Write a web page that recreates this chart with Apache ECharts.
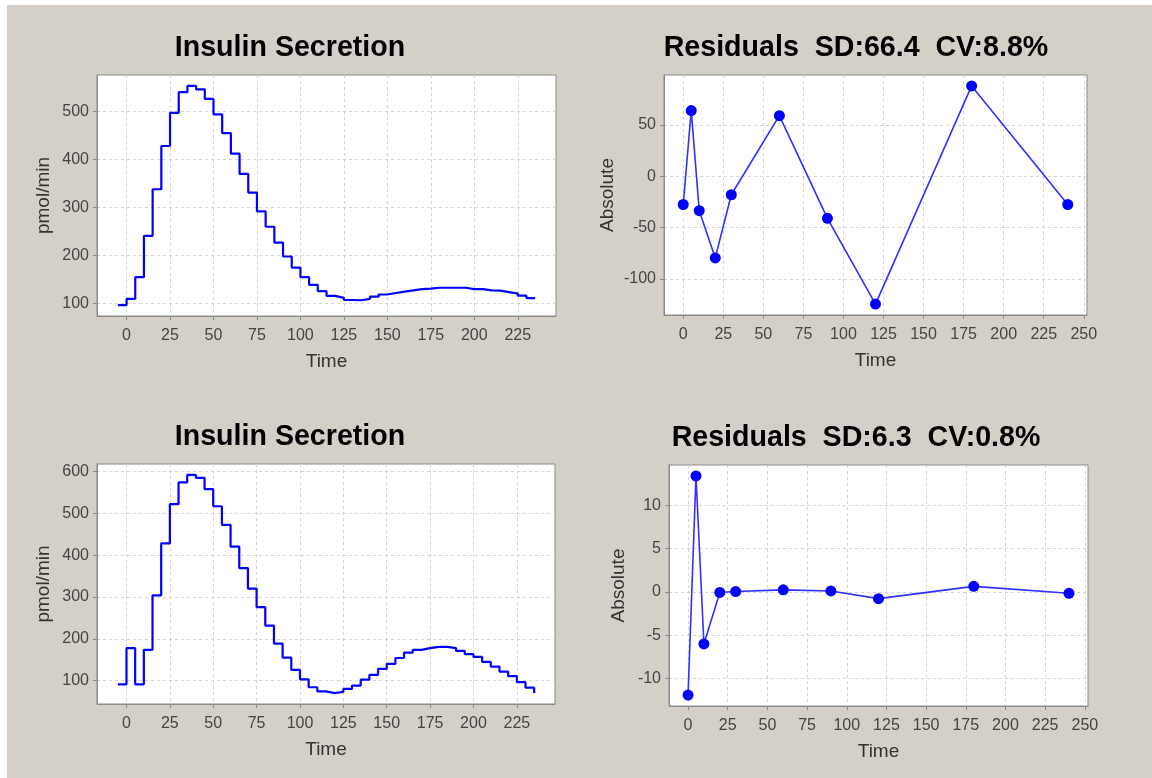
<!DOCTYPE html>
<html>
<head>
<meta charset="utf-8">
<script src="https://cdn.jsdelivr.net/npm/echarts@6/dist/echarts.min.js"></script>
<style>
html,body{margin:0;padding:0;background:#ffffff;width:1152px;height:778px;overflow:hidden;}
#chart{position:absolute;left:7px;top:5px;width:1145px;height:773px;}
</style>
</head>
<body>
<div id="chart"></div>
<script>
// ---------- data ----------
const stepTimes = [-5,0,5,10,15,20,25,30,35,40,45,50,55,60,65,70,75,80,85,90,95,100,105,110,115,120,125,130,135,140,145,150,155,160,165,170,175,180,185,190,195,200,205,210,215,220,225,230,235];
const secretionTop = [97,110,155,241,338,428,497,540,553,546,526,494,455,412,370,331,292,260,227,198,175,155,139,126,116,112,107.5,107,110,114.5,119,122,125,127.5,130,131,133,133,133,133,130,130,127.5,127,124,121,116.5,111.5,111.5];
const secretionBottom = [91,177.5,91,173.5,304,428,522,574,592,585,558,517,472.5,420.5,369,320,275.5,231.5,188.5,155,125.5,103,84,74,70,73,80,88,102,113.5,128,140,154,167,173.5,177.5,180.5,180.5,177.5,171,163,156.5,144.5,133.5,121.5,110.5,96,83,70];
const residTimes = [0,5,10,20,30,60,90,120,180,240];
const residTop = [-27.5,64,-33.5,-79.5,-18,59,-41,-124.5,88,-27.5];
const residBottom = [-11.9,13.4,-6.0,-0.05,0.05,0.25,0.12,-0.77,0.65,-0.15];

const stepXTicks = [0,25,50,75,100,125,150,175,200,225];
const residXTicks = [0,25,50,75,100,125,150,175,200,225,250];
const secTopYTicks = [100,200,300,400,500];
const secBotYTicks = [100,200,300,400,500,600];
const resTopYTicks = [-100,-50,0,50];
const resBotYTicks = [-10,-5,0,5,10];

const titles = ['Insulin Secretion', 'Residuals  SD:66.4  CV:8.8%', 'Insulin Secretion', 'Residuals  SD:6.3  CV:0.8%'];
// ---------- helpers ----------
function pad(arr){ const mn=Math.min(...arr), mx=Math.max(...arr), r=mx-mn; return [mn-0.05*r, mx+0.05*r]; }
const FONT = 'Liberation Sans, Arial, sans-serif';
function axis(gi, ticks, range, name, gap, isX){
  return {
    type:'value', gridIndex:gi, min:range[0], max:range[1],
    name:name, nameLocation:'middle', nameGap:gap,
    nameTextStyle:{color:'#333', fontSize:19, fontFamily:FONT},
    axisLine:{show:true, onZero:false, lineStyle:{color:'#8a8a8a', width:1}},
    axisTick:{show:true, length:4, customValues:ticks, lineStyle:{color:'#8a8a8a'}},
    axisLabel:{show:true, customValues:ticks, color:'#444', fontSize:16, fontFamily:FONT, margin: isX ? 12 : 8},
    splitLine:{show:true, lineStyle:{color:'#d4d4d4', type:[3,3], width:1}}
  };
}
function pairs(xs, ys){ return xs.map((x,i)=>[x, ys[i]]); }
const TS = {fontSize:28.6, fontWeight:'bold', color:'#000', fontFamily:FONT};

const chart = echarts.init(document.getElementById('chart'), null, {renderer:'canvas'});
chart.setOption({
  backgroundColor:'#d4d0c8',
  animation:false,
  title:[
    {text:titles[0], left:278, top:24, textAlign:'center', textStyle:TS},
    {text:titles[1], left:844, top:24, textAlign:'center', textStyle:TS},
    {text:titles[2], left:278, top:413, textAlign:'center', textStyle:TS},
    {text:titles[3], left:844, top:414, textAlign:'center', textStyle:TS}
  ],
  grid:[
    {left:90, top:70, width:459, height:241, show:true, backgroundColor:'#fff', borderColor:'#8a8a8a'},
    {left:657, top:70, width:423, height:240, show:true, backgroundColor:'#fff', borderColor:'#8a8a8a'},
    {left:90, top:459, width:458, height:240, show:true, backgroundColor:'#fff', borderColor:'#8a8a8a'},
    {left:662, top:460, width:419, height:241, show:true, backgroundColor:'#fff', borderColor:'#8a8a8a'}
  ],
  xAxis:[
    axis(0, stepXTicks, pad(stepTimes), 'Time', 36, true),
    axis(1, residXTicks, pad(residTimes), 'Time', 36, true),
    axis(2, stepXTicks, pad(stepTimes), 'Time', 36, true),
    axis(3, residXTicks, pad(residTimes), 'Time', 36, true)
  ],
  yAxis:[
    axis(0, secTopYTicks, pad(secretionTop), 'pmol/min', 44, false),
    axis(1, resTopYTicks, pad(residTop), 'Absolute', 47, false),
    axis(2, secBotYTicks, pad(secretionBottom), 'pmol/min', 44, false),
    axis(3, resBotYTicks, pad(residBottom), 'Absolute', 41, false)
  ],
  series:[
    {type:'line', xAxisIndex:0, yAxisIndex:0, step:'end', showSymbol:false, data:pairs(stepTimes, secretionTop), lineStyle:{color:'#0000ff', width:2.2}},
    {type:'line', xAxisIndex:1, yAxisIndex:1, symbol:'circle', symbolSize:11, data:pairs(residTimes, residTop), itemStyle:{color:'#0000ff'}, lineStyle:{color:'#3030ff', width:1.6}},
    {type:'line', xAxisIndex:2, yAxisIndex:2, step:'end', showSymbol:false, data:pairs(stepTimes, secretionBottom), lineStyle:{color:'#0000ff', width:2.2}},
    {type:'line', xAxisIndex:3, yAxisIndex:3, symbol:'circle', symbolSize:11, data:pairs(residTimes, residBottom), itemStyle:{color:'#0000ff'}, lineStyle:{color:'#3030ff', width:1.6}}
  ]
});
</script>
</body>
</html>
